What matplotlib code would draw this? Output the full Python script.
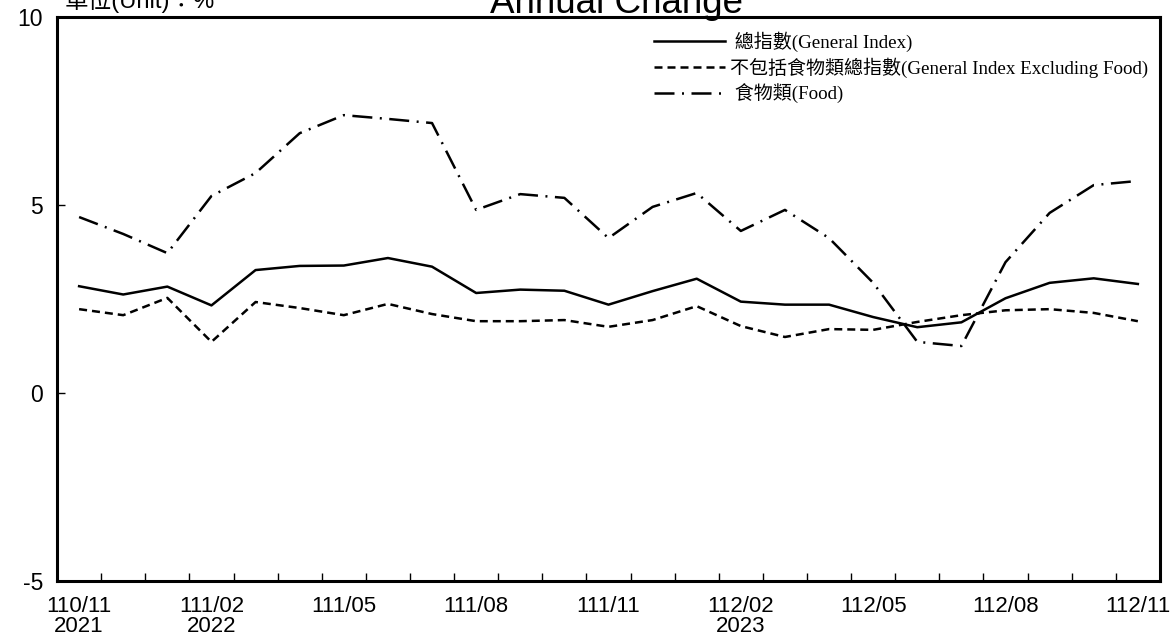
import numpy as np
import matplotlib
matplotlib.use("Agg")
import matplotlib.pyplot as plt

# 月份 (民國年/月)
months = ["110/11", "110/12", "111/01", "111/02", "111/03", "111/04", "111/05",
          "111/06", "111/07", "111/08", "111/09", "111/10", "111/11", "111/12",
          "112/01", "112/02", "112/03", "112/04", "112/05", "112/06", "112/07",
          "112/08", "112/09", "112/10", "112/11"]
tick_labels = {0: "110/11\n2021", 3: "111/02\n2022", 6: "111/05", 9: "111/08",
               12: "111/11", 15: "112/02\n2023", 18: "112/05", 21: "112/08",
               24: "112/11"}

general = [2.84, 2.62, 2.83, 2.33, 3.27, 3.38, 3.39, 3.59, 3.36, 2.66, 2.75, 2.72,
           2.35, 2.71, 3.04, 2.43, 2.35, 2.35, 2.02, 1.75, 1.88, 2.52, 2.93, 3.05, 2.90]
excl_food = [2.23, 2.07, 2.53, 1.36, 2.42, 2.26, 2.07, 2.37, 2.10, 1.91, 1.91, 1.94,
             1.76, 1.94, 2.31, 1.78, 1.49, 1.70, 1.68, 1.89, 2.07, 2.20, 2.23, 2.13, 1.91]
food = [4.68, 4.23, 3.72, 5.24, 5.85, 6.91, 7.39, 7.29, 7.18, 4.87, 5.29, 5.19,
        4.12, 4.95, 5.32, 4.31, 4.87, 4.12, 2.93, 1.36, 1.25, 3.48, 4.79, 5.53, 5.64]

sans = ["Liberation Sans", "DejaVu Sans"]
serif_cjk = ["Liberation Serif", "Noto Sans CJK TC"]

fig = plt.figure(figsize=(11.74, 6.4), dpi=100)
ax = fig.add_axes([0.0486, 0.0922, 0.9394, 0.8812])

x = np.arange(len(months))
lw = 1.8
ax.plot(x, general, color="black", lw=lw, label=" 總指數(General Index)")
ax.plot(x, excl_food, color="black", lw=lw, dashes=(3.2, 2.0),
        label="不包括食物類總指數(General Index Excluding Food)")
ax.plot(x, food, color="black", lw=lw, dashes=(8, 3, 0.8, 3),
        label=" 食物類(Food)")

ax.set_xlim(-0.5, len(months) - 0.5)
ax.set_ylim(-5, 10)

# x 軸：標籤在類別中央，刻度在類別邊界
pos = sorted(tick_labels)
ax.set_xticks(pos)
ax.set_xticklabels([tick_labels[p] for p in pos], fontfamily=sans, fontsize=16)
ax.tick_params(axis="x", which="major", length=0, pad=11)
for t in ax.get_xticklabels():
    t.set_linespacing(0.95)
ax.set_xticks(np.arange(0.5, len(months) - 1, 1.0), minor=True)
ax.tick_params(axis="x", which="minor", direction="in", length=6, width=1)

ax.set_yticks([-5, 0, 5, 10])
ax.set_yticklabels(["-5", "0", "5", "10"], fontfamily=sans, fontsize=16.5)
ax.tick_params(axis="y", direction="in", length=6, width=1, pad=10)

for s in ax.spines.values():
    s.set_linewidth(2.2)

leg = ax.legend(loc="upper right", bbox_to_anchor=(1.001, 0.998), frameon=False,
                prop={"family": serif_cjk, "size": 13.7}, handlelength=3.7,
                handletextpad=0.25, labelspacing=0.3, borderaxespad=0.3)

fig.text(0.525, 0.980, "Annual Change", ha="center", va="baseline",
         fontsize=26.5, fontfamily=sans)
fig.text(0.055, 0.988, "單位(Unit)：%", ha="left", va="baseline",
         fontsize=17, fontfamily=["Liberation Sans", "Noto Sans CJK TC"])

fig.savefig("out.png", dpi=100)
